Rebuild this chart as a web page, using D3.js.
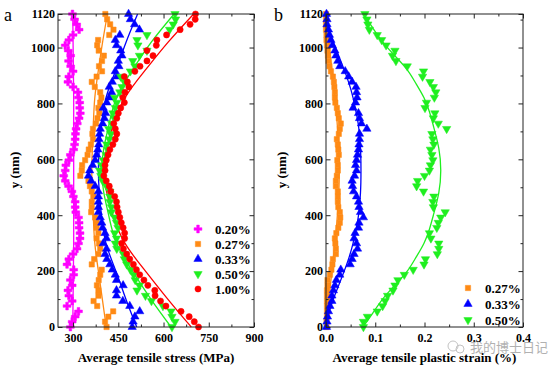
<!DOCTYPE html>
<html>
<head>
<meta charset="utf-8">
<script src="https://cdn.jsdelivr.net/npm/d3@7"></script>
<style>
  body { margin: 0; background: #fff; }
  svg { font-family: "Liberation Serif", "Times New Roman", serif; }
  .tick text { font-weight: bold; font-size: 12px; fill: #000; }
  .tick line { stroke: #222; }
</style>
</head>
<body>
<svg id="chart" width="557" height="373"></svg>
<script>
// depth positions (nm) shared by all measured series
const depth = [0, 19, 37, 56, 75, 93, 112, 131, 149, 168, 187, 205, 224, 243, 261, 280, 299, 317, 336, 355,
  373, 392, 411, 429, 448, 467, 485, 504, 523, 541, 560, 579, 597, 616, 635, 653, 672, 691, 709, 728,
  747, 765, 784, 803, 821, 840, 859, 877, 896, 915, 933, 952, 971, 989, 1008, 1027, 1045, 1064, 1083, 1101, 1120];

// panel a: average tensile stress (MPa)
const stress020 = [291, 297, 307, 318, 280, 297, 286, 283, 297, 291, 302, 302, 280, 286, 300, 313, 318, 323, 323, 320,
  320, 318, 309, 307, 307, 301, 296, 285, 274, 269, 274, 276, 286, 291, 302, 305, 307, 308, 310, 314,
  320, 324, 322, 322, 318, 316, 300, 283, 286, 300, 292, 285, 292, 284, 274, 286, 300, 320, 312, 305, 298];
const stress027 = [411, 406, 417, 433, 380, 368, 384, 384, 379, 385, 390, 395, 362, 370, 384, 390, 386, 378, 384, 378,
  378, 373, 360, 362, 362, 367, 362, 356, 351, 324, 329, 330, 340, 348, 352, 359, 366, 364, 366, 376,
  381, 387, 384, 390, 394, 390, 372, 362, 378, 396, 386, 396, 402, 385, 380, 383, 420, 434, 423, 413, 407];
const stress033 = [496, 499, 505, 521, 488, 465, 444, 444, 466, 444, 440, 430, 422, 412, 406, 411, 400, 411, 406, 398,
  395, 390, 384, 384, 384, 384, 384, 373, 360, 351, 355, 365, 373, 378, 382, 385, 386, 388, 390, 398,
  404, 408, 400, 412, 420, 428, 420, 430, 445, 440, 452, 450, 462, 458, 444, 440, 455, 520, 504, 490, 484];
const stress050 = [628, 638, 628, 625, 598, 560, 540, 512, 520, 506, 501, 490, 478, 470, 467, 445, 440, 444, 438, 449,
  444, 438, 427, 427, 422, 422, 422, 411, 398, 392, 388, 395, 400, 410, 415, 412, 420, 425, 418, 428,
  436, 432, 440, 445, 438, 455, 462, 470, 458, 490, 505, 498, 520, 545, 515, 512, 545, 620, 632, 640, 638];
const stress100 = [716, 702, 685, 658, 608, 590, 572, 571, 548, 535, 521, 510, 500, 488, 478, 467, 461, 471, 471, 466,
  460, 455, 450, 446, 444, 438, 425, 420, 410, 402, 406, 406, 410, 416, 422, 432, 440, 445, 440, 435,
  445, 450, 458, 470, 465, 472, 485, 480, 470, 505, 522, 545, 565, 545, 576, 578, 610, 655, 688, 705, 706];

// fitted curves of panel a
const fitDepthA = [0, 100, 200, 300, 400, 480, 560, 640, 720, 820, 920, 1020, 1120];
const fit020 = [299, 300, 301, 302, 302, 302, 302, 302, 302, 302, 301, 300, 299];
const fit027 = [410, 397, 384, 372, 367, 364, 362, 364, 367, 372, 384, 398, 414];
const fit033 = [511, 475, 442, 409, 394, 387, 384, 387, 394, 409, 442, 476, 514];
const fit050 = [625, 558, 497, 444, 418, 402, 395, 402, 418, 444, 497, 560, 635];
const fit100 = [692, 614, 540, 472, 432, 412, 400, 412, 432, 472, 540, 616, 700];

// panel b: average tensile plastic strain (%)
const strain027 = [0.001, 0.001, 0.002, 0.002, 0.002, 0.002, 0.002, 0.002, 0.003, 0.003, 0.008, 0.011, 0.013, 0.014, 0.020, 0.020,
  0.019, 0.018, 0.021, 0.025, 0.028, 0.029, 0.028, 0.025, 0.024, 0.024, 0.024, 0.020, 0.020, 0.022, 0.024,
  0.024, 0.023, 0.026, 0.025, 0.024, 0.022, 0.026, 0.028, 0.030, 0.026, 0.024, 0.022, 0.019, 0.018, 0.018,
  0.017, 0.016, 0.014, 0.010, 0.007, 0.005, 0.004, 0.003, 0.002, 0.001, 0.001, 0.000, 0.000, 0.000, 0.000];
const strain033 = [0.001, 0.002, 0.003, 0.005, 0.008, 0.012, 0.012, 0.015, 0.018, 0.021, 0.028, 0.030, 0.049, 0.053, 0.057, 0.064,
  0.062, 0.057, 0.059, 0.066, 0.067, 0.076, 0.070, 0.067, 0.066, 0.062, 0.056, 0.054, 0.053, 0.058, 0.062,
  0.060, 0.062, 0.064, 0.066, 0.067, 0.068, 0.068, 0.083, 0.072, 0.068, 0.066, 0.055, 0.060, 0.063, 0.062,
  0.061, 0.053, 0.046, 0.039, 0.028, 0.024, 0.020, 0.018, 0.013, 0.010, 0.007, 0.005, 0.002, 0.002, 0.001];
const strain050 = [0.076, 0.076, 0.084, 0.104, 0.115, 0.120, 0.125, 0.136, 0.140, 0.146, 0.159, 0.177, 0.199, 0.202, 0.226, 0.229,
  0.229, 0.213, 0.210, 0.225, 0.228, 0.233, 0.242, 0.218, 0.217, 0.219, 0.198, 0.184, 0.186, 0.200, 0.210,
  0.212, 0.217, 0.215, 0.212, 0.219, 0.217, 0.215, 0.245, 0.228, 0.218, 0.221, 0.201, 0.204, 0.220, 0.223,
  0.218, 0.211, 0.196, 0.198, 0.165, 0.142, 0.135, 0.140, 0.122, 0.113, 0.104, 0.088, 0.085, 0.083, 0.079];

// fitted curves of panel b
const fitDepthB = [0, 50, 100, 150, 200, 250, 300, 350, 400, 480, 560, 640, 720, 770, 820, 870, 920, 970, 1020, 1070, 1120];
const fitB027 = [0.000, 0.003, 0.006, 0.009, 0.012, 0.015, 0.018, 0.021, 0.023, 0.026, 0.027, 0.026, 0.023, 0.021, 0.018, 0.015, 0.012, 0.009, 0.006, 0.003, 0.000];
const fitB033 = [0.000, 0.006, 0.015, 0.026, 0.037, 0.047, 0.055, 0.061, 0.066, 0.070, 0.071, 0.070, 0.066, 0.061, 0.055, 0.047, 0.037, 0.026, 0.015, 0.006, 0.000];
const fitB050 = [0.075, 0.095, 0.115, 0.140, 0.165, 0.183, 0.199, 0.210, 0.218, 0.229, 0.233, 0.229, 0.218, 0.210, 0.199, 0.183, 0.165, 0.140, 0.115, 0.095, 0.076];

const yTicks = [0, 200, 400, 600, 800, 1000, 1120];
const yMinor = [100, 300, 500, 700, 900, 1100];
const xTicksA = [300, 450, 600, 750, 900];
const xMinorA = [375, 525, 675, 825];
const xTicksB = [0, 0.1, 0.2, 0.3, 0.4];
const xMinorB = [0.05, 0.15, 0.25, 0.35];

const C = {
  magenta: "#ff00ff",
  orange: "#ff8a14",
  blue: "#0000ff",
  green: "#1fef1f",
  red: "#ff0000"
};

const SERIF = "Liberation Serif, Times New Roman, serif";
const svg = d3.select("#chart");

const drawPanel = (p) => {
  const x = d3.scaleLinear().domain(p.xDomain).range([p.left, p.right]);
  const y = d3.scaleLinear().domain([0, 1120]).range([327, 14]);
  const g = svg.append("g");

  // curves first, markers on top
  p.series.forEach((s) => {
    const line = d3.line()
      .x((d, i) => x(s.fit[i]))
      .y((d) => y(d))
      .curve(d3.curveNatural);
    g.append("path")
      .attr("d", line(s.fitDepth))
      .attr("fill", "none")
      .attr("stroke", s.color)
      .attr("stroke-width", 1.3);
  });

  p.series.forEach((s) => {
    const sym = d3.symbol().type(s.symbol).size(s.size);
    g.append("g")
      .selectAll("path")
      .data(s.values)
      .enter()
      .append("path")
      .attr("transform", (d, i) => "translate(" + x(d) + "," + y(depth[i]) + ")" + (s.flip ? " rotate(180)" : ""))
      .attr("d", sym)
      .attr("fill", s.color)
      .attr("stroke", s.color)
      .attr("stroke-width", 0.5)
      .attr("stroke-linejoin", "round");
  });

  // axes, ticks inward on all sides
  const bottom = 327, top = 14;
  const clean = (a) => a.attr("font-family", null).attr("font-size", null).select(".domain").remove();
  g.append("g").attr("transform", "translate(0," + bottom + ")")
    .call(d3.axisBottom(x).tickValues(p.xTicks).tickSize(-4.5).tickPadding(6).tickFormat(p.xFormat))
    .call(clean);
  g.append("g").attr("transform", "translate(0," + bottom + ")")
    .call(d3.axisBottom(x).tickValues(p.xMinor).tickSize(-2.5).tickFormat(""))
    .call(clean);
  g.append("g").attr("transform", "translate(0," + top + ")")
    .call(d3.axisTop(x).tickValues(p.xTicks).tickSize(-4.5).tickFormat(""))
    .call(clean);
  g.append("g").attr("transform", "translate(0," + top + ")")
    .call(d3.axisTop(x).tickValues(p.xMinor).tickSize(-2.5).tickFormat(""))
    .call(clean);
  g.append("g").attr("transform", "translate(" + p.left + ",0)")
    .call(d3.axisLeft(y).tickValues(yTicks).tickSize(-4.5).tickPadding(3).tickFormat(d3.format("d")))
    .call(clean);
  g.append("g").attr("transform", "translate(" + p.left + ",0)")
    .call(d3.axisLeft(y).tickValues(yMinor).tickSize(-2.5).tickFormat(""))
    .call(clean);
  g.append("g").attr("transform", "translate(" + p.right + ",0)")
    .call(d3.axisRight(y).tickValues(yTicks).tickSize(-4.5).tickFormat(""))
    .call(clean);
  g.append("g").attr("transform", "translate(" + p.right + ",0)")
    .call(d3.axisRight(y).tickValues(yMinor).tickSize(-2.5).tickFormat(""))
    .call(clean);

  g.append("rect")
    .attr("x", p.left).attr("y", top)
    .attr("width", p.right - p.left).attr("height", bottom - top)
    .attr("fill", "none").attr("stroke", "#222").attr("stroke-width", 1);

  g.append("text")
    .attr("x", (p.left + p.right) / 2).attr("y", 362)
    .attr("text-anchor", "middle")
    .attr("font-family", SERIF)
    .attr("font-weight", "bold").attr("font-size", 13)
    .text(p.xTitle);

  g.append("text")
    .attr("transform", "translate(" + p.yTitleX + ",170) rotate(-90)")
    .attr("text-anchor", "middle")
    .attr("font-family", SERIF)
    .attr("font-weight", "bold").attr("font-size", 13)
    .text("y (nm)");

  g.append("text")
    .attr("x", p.labelX).attr("y", 21)
    .attr("font-family", SERIF)
    .attr("font-size", 18)
    .text(p.label);

  // legend
  p.series.forEach((s, i) => {
    const ly = p.legendY + i * p.legendStep;
    const sym = d3.symbol().type(s.symbol).size(s.size);
    g.append("path")
      .attr("transform", "translate(" + p.legendX + "," + ly + ")" + (s.flip ? " rotate(180)" : ""))
      .attr("d", sym)
      .attr("fill", s.color)
      .attr("stroke", s.color)
      .attr("stroke-width", 0.5);
    g.append("text")
      .attr("x", p.legendX + 17).attr("y", ly + 4.5)
      .attr("font-family", SERIF)
      .attr("font-weight", "bold").attr("font-size", 13)
      .text(s.name);
  });
};

drawPanel({
  label: "a", labelX: 4,
  left: 58, right: 254,
  xDomain: [250, 900],
  xTicks: xTicksA, xMinor: xMinorA,
  xFormat: d3.format("d"),
  xTitle: "Average tensile stress (MPa)",
  yTitleX: 19,
  legendX: 198, legendY: 229, legendStep: 15,
  series: [
    { name: "0.20%", values: stress020, fit: fit020, fitDepth: fitDepthA, color: C.magenta, symbol: d3.symbolCross, size: 34 },
    { name: "0.27%", values: stress027, fit: fit027, fitDepth: fitDepthA, color: C.orange, symbol: d3.symbolSquare, size: 28 },
    { name: "0.33%", values: stress033, fit: fit033, fitDepth: fitDepthA, color: C.blue, symbol: d3.symbolTriangle, size: 30 },
    { name: "0.50%", values: stress050, fit: fit050, fitDepth: fitDepthA, color: C.green, symbol: d3.symbolTriangle, size: 30, flip: true },
    { name: "1.00%", values: stress100, fit: fit100, fitDepth: fitDepthA, color: C.red, symbol: d3.symbolCircle, size: 30 }
  ]
});

drawPanel({
  label: "b", labelX: 274,
  left: 326, right: 523,
  xDomain: [0, 0.4],
  xTicks: xTicksB, xMinor: xMinorB,
  xFormat: d3.format(".1f"),
  xTitle: "Average tensile plastic strain (%)",
  yTitleX: 286,
  legendX: 468, legendY: 288, legendStep: 16,
  series: [
    { name: "0.27%", values: strain027, fit: fitB027, fitDepth: fitDepthB, color: C.orange, symbol: d3.symbolSquare, size: 28 },
    { name: "0.33%", values: strain033, fit: fitB033, fitDepth: fitDepthB, color: C.blue, symbol: d3.symbolTriangle, size: 30 },
    { name: "0.50%", values: strain050, fit: fitB050, fitDepth: fitDepthB, color: C.green, symbol: d3.symbolTriangle, size: 30, flip: true }
  ]
});

// watermark
const wm = svg.append("g").attr("opacity", 0.5);
wm.append("circle").attr("cx", 453).attr("cy", 346).attr("r", 5).attr("fill", "none").attr("stroke", "#888").attr("stroke-width", 1);
wm.append("circle").attr("cx", 460).attr("cy", 349).attr("r", 4).attr("fill", "none").attr("stroke", "#888").attr("stroke-width", 1);
wm.append("text")
  .attr("x", 470).attr("y", 352)
  .attr("font-family", "Noto Sans CJK SC").attr("font-size", 13)
  .attr("fill", "#666")
  .text("我的博士日记");
</script>
</body>
</html>
